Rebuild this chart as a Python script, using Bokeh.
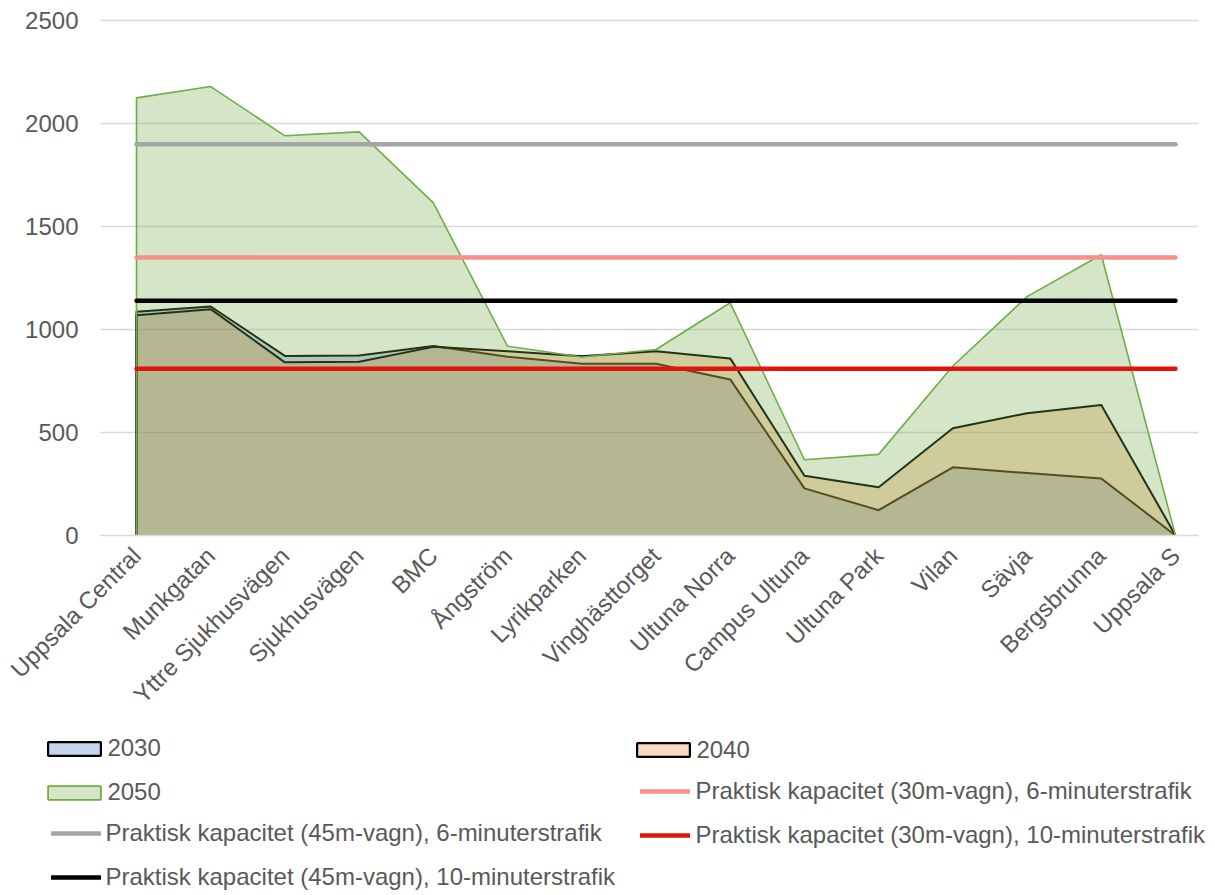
import math
from bokeh.plotting import figure
from bokeh.models import Legend, LegendItem, FixedTicker
from bokeh.embed import file_html
from bokeh.resources import INLINE

stations = ["Uppsala Central", "Munkgatan", "Yttre Sjukhusvägen", "Sjukhusvägen", "BMC",
            "Ångström", "Lyrikparken", "Vinghästtorget", "Ultuna Norra", "Campus Ultuna",
            "Ultuna Park", "Vilan", "Sävja", "Bergsbrunna", "Uppsala S"]
v2030 = [1087, 1112, 872, 874, 920, 868, 834, 834, 758, 229, 123, 331, 303, 277, 0]
v2040 = [1069, 1099, 841, 844, 916, 895, 871, 895, 860, 290, 234, 521, 594, 634, 0]
v2050 = [2125, 2180, 1941, 1960, 1615, 919, 867, 903, 1130, 368, 394, 823, 1160, 1363, 0]

cap_labels = ["Praktisk kapacitet (30m-vagn), 6-minuterstrafik",
              "Praktisk kapacitet (45m-vagn), 6-minuterstrafik",
              "Praktisk kapacitet (30m-vagn), 10-minuterstrafik",
              "Praktisk kapacitet (45m-vagn), 10-minuterstrafik"]
cap_values = [1350, 1900, 810, 1140]
cap_colors = ["#F8908C", "#A5A5A5", "#E0140C", "#000000"]

y_ticks = [0, 500, 1000, 1500, 2000, 2500]

FONT = "Liberation Sans"
TXT = "#595959"
FS = "24px"

x = list(range(len(stations)))

PLOT_H = 720
p = figure(width=1207, height=PLOT_H, output_backend="svg", toolbar_location=None,
           x_range=(-0.485, 14.31), y_range=(0, 2530),
           min_border_left=100, min_border_right=9, min_border_top=14,
           min_border_bottom=PLOT_H - 537)
p.outline_line_color = None

p.xgrid.grid_line_color = None
p.ygrid.grid_line_color = "#D9D9D9"
p.ygrid.grid_line_width = 1.3
p.yaxis.ticker = FixedTicker(ticks=y_ticks)
p.xaxis.ticker = FixedTicker(ticks=x)
p.xaxis.major_label_overrides = {i: s for i, s in enumerate(stations)}

for ax in (p.xaxis, p.yaxis):
    ax.major_tick_line_color = None
    ax.minor_tick_line_color = None
    ax.major_tick_out = 0
    ax.major_tick_in = 0
    ax.major_label_text_font = FONT
    ax.major_label_text_font_size = FS
    ax.major_label_text_color = TXT
p.yaxis.axis_line_color = None
p.yaxis.major_label_standoff = 22
p.xaxis.axis_line_color = "#D9D9D9"
p.xaxis.axis_line_width = 1.3
p.xaxis.major_label_orientation = math.pi / 4
p.xaxis.major_label_standoff = 16

series = [("2030", v2030, "#4472C4", "black", 2),
          ("2040", v2040, "#ED7D31", "black", 2),
          ("2050", v2050, "#70AD47", "#70AD47", 1.6)]
for name, vals, fc, lc, lw in series:
    p.varea(x=x, y1=[0] * len(x), y2=vals, fill_color=fc, fill_alpha=0.3)
    p.line(x=[x[0]] + x, y=[0] + vals, line_color=lc, line_width=lw, line_join="round")

for val, col in zip(cap_values, cap_colors):
    p.line(x=[x[0], x[-1]], y=[val, val], line_color=col, line_width=4.5, line_cap="round")

# ---- legend panel: a second root below the chart ----
TOTAL_H = 891
LEG_H = TOTAL_H - PLOT_H
# the view of q is placed away from the data so its renderers serve only as legend swatches
q = figure(width=1207, height=LEG_H, output_backend="svg", toolbar_location=None,
           x_range=(-100, -99), y_range=(-100, -99), x_axis_location=None, y_axis_location=None,
           min_border_left=0, min_border_right=0, min_border_top=0, min_border_bottom=0)
q.outline_line_color = None
q.xgrid.grid_line_color = None
q.ygrid.grid_line_color = None

swatch = {}
for name, vals, fc, lc, lw in series:
    swatch[name] = q.patch(x=x, y=vals, fill_color=fc, fill_alpha=0.3, line_color=lc,
                           line_width=2.2 if lc == "black" else 1.8)
cap_swatch = [q.line(x=[x[0], x[-1]], y=[v, v], line_color=c, line_width=4.5, line_cap="round")
              for v, c in zip(cap_values, cap_colors)]

STEP = 42.5


def add_legend(items, x_img, last_center_img, gw, gh, standoff):
    lh = 26
    item_h = max(gh, lh)
    bottom = last_center_img + item_h / 2
    leg = Legend(items=items, location=(x_img, TOTAL_H - bottom),
                 glyph_width=gw, glyph_height=gh, label_height=lh,
                 label_standoff=standoff, spacing=int(round(STEP - item_h)),
                 padding=0, margin=0, background_fill_alpha=0, border_line_alpha=0,
                 label_text_font=FONT, label_text_font_size=FS, label_text_color=TXT)
    q.add_layout(leg, "center")


R1 = 750.5
add_legend([LegendItem(label="2030", renderers=[swatch["2030"]]),
            LegendItem(label="2050", renderers=[swatch["2050"]])],
           41.4, R1 + STEP, 66, 17, -2)
add_legend([LegendItem(label=cap_labels[1], renderers=[cap_swatch[1]]),
            LegendItem(label=cap_labels[3], renderers=[cap_swatch[3]])],
           50.5, R1 + 3 * STEP, 50, 26, 5)
add_legend([LegendItem(label="2040", renderers=[swatch["2040"]])],
           630.4, R1, 66, 17, -1)
add_legend([LegendItem(label=cap_labels[0], renderers=[cap_swatch[0]]),
            LegendItem(label=cap_labels[2], renderers=[cap_swatch[2]])],
           639.5, R1 + 2 * STEP, 50, 26, 6)

open("out.html", "w").write(file_html([p, q], INLINE))
